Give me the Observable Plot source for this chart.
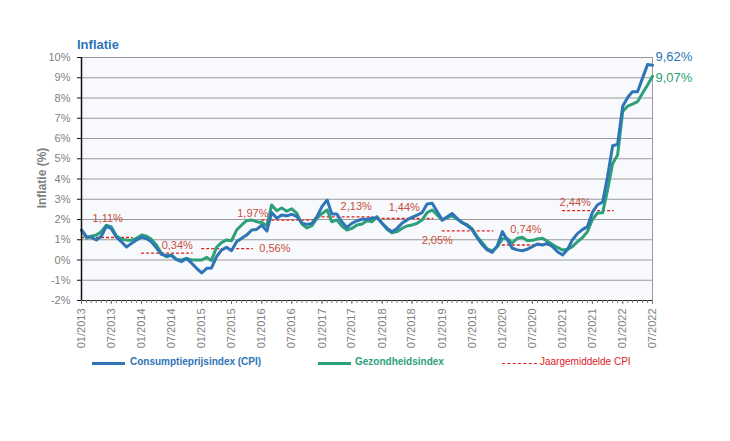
<!DOCTYPE html>
<html>
<head>
<meta charset="utf-8">
<script src="https://cdn.jsdelivr.net/npm/d3@7"></script>
<script src="https://cdn.jsdelivr.net/npm/@observablehq/plot@0.6"></script>
<style>
  body { margin: 0; background: #fff; font-family: "Liberation Sans", Arial, sans-serif; }
  #wrap { position: relative; width: 730px; height: 441px; }
  .abs { position: absolute; white-space: nowrap; line-height: 1; }
  #title { left: 77px; top: 38px; font-size: 13px; font-weight: bold; color: #2e75b6; }
  #ylab { left: 42px; top: 178px; font-size: 12px; font-weight: bold; color: #7f7f7f;
          transform: translate(-50%, -50%) rotate(-90deg); }
  .leg { top: 357px; font-size: 10px; }
  .sw { position: absolute; top: 362px; height: 0; }
</style>
</head>
<body>
<div id="wrap">
  <div id="chart"></div>
  <div id="title" class="abs">Inflatie</div>
  <div id="ylab" class="abs">Inflatie (%)</div>
  <div class="sw" style="left:92px;width:33px;border-top:3px solid #2e75b6;"></div>
  <div class="abs leg" style="left:130px;color:#2e75b6;font-weight:bold;">Consumptieprijsindex (CPI)</div>
  <div class="sw" style="left:318px;width:33px;border-top:3px solid #2da07a;"></div>
  <div class="abs leg" style="left:355px;color:#2da07a;font-weight:bold;">Gezondheidsindex</div>
  <div class="sw" style="left:502px;width:35px;top:363px;border-top:1px dashed #e0201f;"></div>
  <div class="abs leg" style="left:540px;color:#e0201f;">Jaargemiddelde CPI</div>
</div>
<script>
// Monthly values, Jan 2013 .. Jul 2022
const cpi = [
  1.48, 1.15, 1.12, 0.99, 1.17, 1.66, 1.55, 1.13, 0.90, 0.64, 0.82, 0.99,
  1.13, 1.05, 0.90, 0.60, 0.28, 0.21, 0.22, 0.02, -0.08, 0.08, -0.16, -0.41,
  -0.64, -0.41, -0.40, 0.16, 0.49, 0.63, 0.46, 0.90, 1.07, 1.23, 1.48, 1.51,
  1.72, 1.43, 2.35, 2.06, 2.22, 2.18, 2.26, 2.14, 1.82, 1.76, 1.81, 2.14,
  2.65, 2.96, 2.27, 2.27, 1.89, 1.61, 1.81, 1.94, 2.01, 2.01, 2.06, 2.09,
  1.81, 1.56, 1.40, 1.56, 1.81, 1.98, 2.11, 2.22, 2.34, 2.77, 2.80, 2.39,
  1.98, 2.14, 2.30, 2.06, 1.85, 1.70, 1.50, 1.10, 0.75, 0.50, 0.38, 0.70,
  1.40, 0.99, 0.58, 0.50, 0.46, 0.53, 0.66, 0.79, 0.74, 0.82, 0.66, 0.41,
  0.25, 0.53, 0.99, 1.30, 1.50, 1.65, 2.35, 2.73, 2.86, 4.12, 5.64, 5.71,
  7.59, 8.04, 8.31, 8.31, 8.97, 9.65, 9.62
];
const gezondheid = [
  1.48, 1.08, 1.18, 1.23, 1.40, 1.72, 1.63, 1.18, 1.03, 0.98, 0.98, 1.07,
  1.23, 1.18, 1.02, 0.74, 0.33, 0.16, 0.25, 0.03, 0.00, 0.08, 0.00, 0.00,
  0.00, 0.13, -0.03, 0.63, 0.86, 0.99, 0.95, 1.48, 1.73, 1.94, 1.98, 1.89,
  1.85, 1.69, 2.72, 2.43, 2.57, 2.41, 2.53, 2.30, 1.77, 1.58, 1.70, 2.06,
  2.30, 2.47, 1.89, 1.98, 1.68, 1.48, 1.56, 1.73, 1.78, 1.94, 1.89, 2.14,
  1.81, 1.51, 1.35, 1.40, 1.56, 1.68, 1.73, 1.81, 1.98, 2.34, 2.47, 2.22,
  1.96, 2.10, 2.18, 2.03, 1.85, 1.75, 1.55, 1.15, 0.85, 0.55, 0.45, 0.65,
  1.05, 1.05, 0.85, 1.07, 1.12, 0.95, 0.97, 1.04, 1.07, 0.92, 0.76, 0.62,
  0.49, 0.53, 0.66, 0.90, 1.10, 1.40, 2.00, 2.32, 2.33, 3.46, 4.77, 5.19,
  7.33, 7.60, 7.70, 7.82, 8.23, 8.64, 9.07
];
const avgYears = [2013, 2014, 2015, 2016, 2017, 2018, 2019, 2020, 2021];
const avgValues = [1.11, 0.34, 0.56, 1.97, 2.13, 2.05, 1.44, 0.74, 2.44];
const avgLabels = ["1,11%", "0,34%", "0,56%", "1,97%", "2,13%", "1,44%", "2,05%", "0,74%", "2,44%"];
const endLabels = ["9,62%", "9,07%"];
const yTicks = [-2, -1, 0, 1, 2, 3, 4, 5, 6, 7, 8, 9, 10];

const blue = "#2e75b6", green = "#2da07a", red = "#e0201f", labRed = "#c8503c", gray = "#7f7f7f";
const start = new Date(Date.UTC(2013, 0, 1));
const dates = cpi.map((_, i) => d3.utcMonth.offset(start, i));
const end = dates[dates.length - 1];
const cpiData = cpi.map((v, i) => ({date: dates[i], v}));
const gezData = gezondheid.map((v, i) => ({date: dates[i], v}));
const DAY = 864e5;
const avgData = avgYears.map((y, i) => {
  const x1 = new Date(Date.UTC(y, 0, 1));
  return {x1, x2: new Date(+x1 + 313 * DAY), v: avgValues[i], label: avgLabels[i], year: y};
});
// label placement (months from Jan of the year, vertical pixel shift)
const place = [[2.2, -19], [4, -8], [11.5, 0], [-4.9, -7], [3.7, -10], [1.3, -11], [-4.1, 10], [1.6, -16], [-0.6, -8]];
const labData = avgData.map((d, i) => ({...d, lx: new Date(+d.x1 + place[i][0] * 30.44 * DAY), dy: place[i][1]}));
const endData = [
  {date: end, v: cpi[cpi.length - 1], label: endLabels[0], c: blue, dy: -8},
  {date: end, v: gezondheid[gezondheid.length - 1], label: endLabels[1], c: green, dy: 1}
];

const chart = Plot.plot({
  width: 730, height: 441,
  marginLeft: 81, marginRight: 78, marginTop: 57, marginBottom: 141,
  style: {fontFamily: "'Liberation Sans', Arial, sans-serif", fontSize: "11px", background: "transparent", overflow: "visible"},
  x: {type: "utc", domain: [start, end]},
  y: {domain: [-2, 10]},
  marks: [
    Plot.frame({fill: "#f7f9fc", stroke: null}),
    Plot.gridY(yTicks, {stroke: "#9a9a9a", strokeOpacity: 1, strokeWidth: 1}),
    Plot.ruleX([end], {stroke: "#9a9a9a"}),
    Plot.ruleY(avgData, {x1: "x1", x2: "x2", y: "v", stroke: red, strokeWidth: 1.3, strokeDasharray: "3,2"}),
    Plot.line(gezData, {x: "date", y: "v", stroke: green, strokeWidth: 3, strokeLinejoin: "round"}),
    Plot.line(cpiData, {x: "date", y: "v", stroke: blue, strokeWidth: 3, strokeLinejoin: "round"}),
    ...labData.map(d => Plot.text([d], {x: "lx", y: "v", text: "label", dy: d.dy, textAnchor: "start", fill: labRed, fontSize: 11})),
    ...endData.map(d => Plot.text([d], {x: "date", y: "v", text: "label", dx: 3, dy: d.dy, textAnchor: "start", fill: d.c, fontSize: 13})),
    Plot.ruleY([-2], {stroke: "#222"}),
    Plot.ruleX([start], {stroke: "#111", strokeWidth: 1.5}),
    Plot.axisY(yTicks, {tickFormat: d => d + "%", tickSize: 4, tickPadding: 7, label: null, fill: gray, stroke: "#111", fontSize: 11}),
    Plot.axisX(dates, {tickFormat: () => "", tickSize: 3, label: null, stroke: "#777"}),
    Plot.axisX(d3.utcMonth.every(6).range(start, d3.utcDay.offset(end, 1)), {tickFormat: d3.utcFormat("%m/%Y"), tickRotate: -90, tickSize: 4, tickPadding: 4, label: null, fill: gray, stroke: "#777", fontSize: 11})
  ]
});
document.getElementById("chart").appendChild(chart);
</script>
</body>
</html>
